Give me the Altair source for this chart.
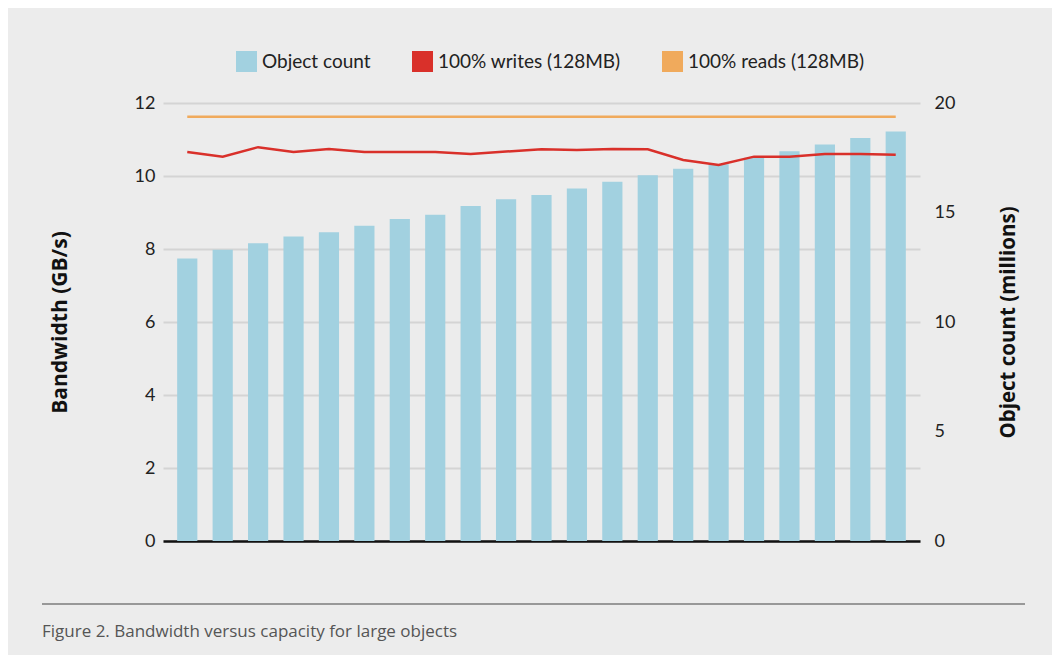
import altair as alt
import pandas as pd

runs = [f"R{i:02d}" for i in range(1, 22)]
object_count = [12.9, 13.3, 13.6, 13.9, 14.1, 14.4, 14.7, 14.9, 15.3, 15.6, 15.8,
                16.1, 16.4, 16.7, 17.0, 17.2, 17.5, 17.8, 18.1, 18.4, 18.7]
writes = [10.66, 10.53, 10.79, 10.66, 10.74, 10.66, 10.66, 10.66, 10.60, 10.67, 10.73,
          10.71, 10.74, 10.73, 10.44, 10.30, 10.53, 10.53, 10.60, 10.60, 10.58]
reads = [11.62, 11.62, 11.62, 11.62, 11.62, 11.62, 11.62, 11.62, 11.62, 11.62, 11.62,
         11.62, 11.62, 11.62, 11.62, 11.62, 11.62, 11.62, 11.62, 11.62, 11.62]
series_names = ["Object count", "100% writes (128MB)", "100% reads (128MB)"]
series_colors = ["#a2d1e0", "#d9302a", "#f0aa5c"]
caption = "Figure 2. Bandwidth versus capacity for large objects"

FONT = "Lato"
TFONT = "Open Sans"
BG = "#ececec"

bars_df = pd.DataFrame({"run": runs, "count": object_count, "series": series_names[0]})
lines_df = pd.concat([
    pd.DataFrame({"run": runs, "bw": writes, "series": series_names[1]}),
    pd.DataFrame({"run": runs, "bw": reads, "series": series_names[2]}),
])

xscale = alt.Scale(domain=runs, paddingInner=0.43, paddingOuter=0.4)
xaxis = alt.Axis(labels=False, ticks=False, title=None, domain=True,
                 domainColor="#111111", domainWidth=2.5, grid=False)
color = alt.Color(
    "series:N",
    scale=alt.Scale(domain=series_names, range=series_colors),
    legend=alt.Legend(
        title=None, orient="none", direction="horizontal",
        legendX=73, legendY=-52,
        symbolType="square", symbolSize=441, symbolStrokeWidth=0,
        symbolOpacity=1,
        labelFont=FONT, labelFontSize=19, labelColor="#222222",
        labelOffset=5, columnPadding=41, labelLimit=400,
    ),
)

bars = alt.Chart(bars_df).mark_bar(color=series_colors[0]).encode(
    x=alt.X("run:N", scale=xscale, axis=xaxis, sort=runs),
    y=alt.Y("count:Q", scale=alt.Scale(domain=[0, 20]),
            axis=alt.Axis(orient="right", values=[0, 5, 10, 15, 20], grid=False,
                          ticks=False, domain=False, labelPadding=14,
                          labelFont=FONT, labelFontSize=18, labelColor="#222222",
                          title="Object count (millions)", titleFont=TFONT,
                          titleFontSize=20.5, titleFontWeight="bold", titleColor="#111111",
                          titleX=88, titleY=219, titleAngle=270,
                          titleAlign="center", titleBaseline="middle")),
    color=color,
)

lines = alt.Chart(lines_df).mark_line(strokeWidth=2.5).encode(
    x=alt.X("run:N", scale=xscale, axis=xaxis, sort=runs),
    y=alt.Y("bw:Q", scale=alt.Scale(domain=[0, 12]),
            axis=alt.Axis(orient="left", values=[0, 2, 4, 6, 8, 10, 12], grid=True,
                          gridColor="#d4d4d4", gridWidth=2, ticks=False, domain=False,
                          labelPadding=8, labelFont=FONT, labelFontSize=18,
                          labelColor="#222222",
                          title="Bandwidth (GB/s)", titleFont=TFONT, titleFontSize=21,
                          titleFontWeight="bold", titleColor="#111111",
                          titleX=-103, titleY=219, titleAngle=270,
                          titleAlign="center", titleBaseline="middle")),
    color=color,
    detail="series:N",
)

deco_df = pd.DataFrame({"t": [caption]})
divider = alt.Chart(deco_df).mark_rule(color="#7d7d7d", strokeWidth=1.5).encode(
    x=alt.value(-121), x2=alt.value(862), y=alt.value(501)
)
cap = alt.Chart(deco_df).mark_text(
    align="left", baseline="middle", font=TFONT, fontSize=17, color="#555555"
).encode(x=alt.value(-121), y=alt.value(529), text="t:N")

chart = alt.layer(bars, lines, divider, cap).resolve_scale(
    y="independent"
).properties(
    width=757, height=438,
    autosize=alt.AutoSizeParams(type="none"),
    padding={"left": 155, "top": 95, "right": 132, "bottom": 114},
    background=BG,
).configure_view(stroke=None)

chart.save("out.html", embed_options={"renderer": "svg", "actions": False})
